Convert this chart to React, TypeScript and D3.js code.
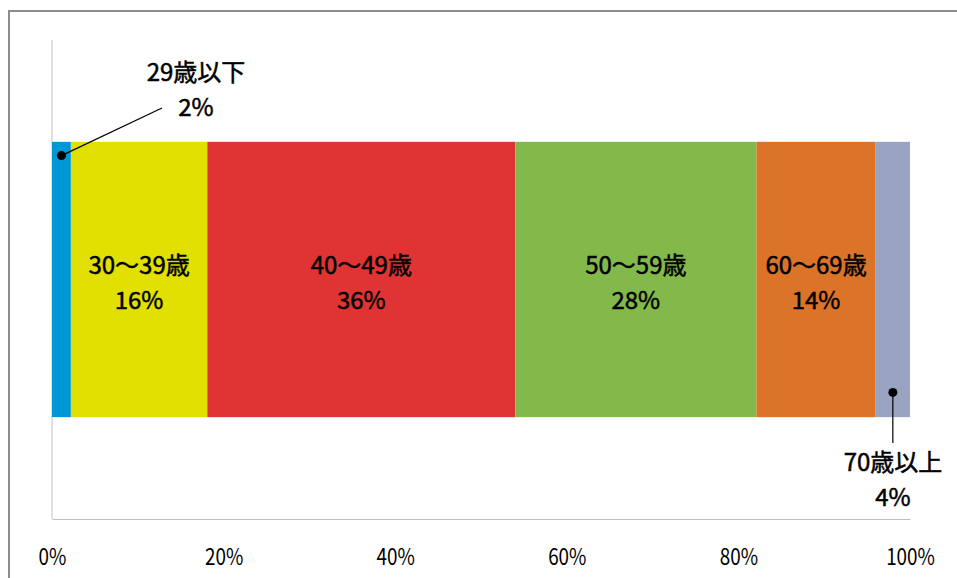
import { useEffect, useRef } from "react";
import * as d3 from "d3";

const categories = ["29歳以下", "30～39歳", "40～49歳", "50～59歳", "60～69歳", "70歳以上"];
const shares = [2.2, 15.9, 35.9, 28.1, 13.9, 4.0];
const colors = ["#0097d6", "#e2e000", "#e03434", "#83b94a", "#db7428", "#9aa4c2"];
const ticks = [0, 20, 40, 60, 80, 100];

const FONT = "'Noto Sans CJK JP', 'Noto Sans', sans-serif";

function App() {
  const svgRef = useRef<SVGSVGElement | null>(null);

  useEffect(() => {
    const svg: any = d3.select(svgRef.current);
    svg.selectAll("*").remove();

    const width = 957;
    const height = 578;
    const plotTop = 40;
    const plotBottom = 519;

    // chart frame (runs off the right/bottom edge)
    svg
      .append("rect")
      .attr("x", 9)
      .attr("y", 11)
      .attr("width", width + 20)
      .attr("height", height + 20)
      .attr("fill", "#fff")
      .attr("stroke", "#8c8c8c")
      .attr("stroke-width", 2);

    const x = d3.scaleLinear().domain([0, 100]).range([52, 910]);
    const y = d3
      .scaleBand()
      .domain(["all"])
      .range([plotTop, plotBottom])
      .padding(0.27);

    const stacked = shares.map((v, i) => {
      const start = d3.sum(shares.slice(0, i));
      return { name: categories[i], value: v, x0: start, x1: start + v, color: colors[i] };
    });

    const by = y("all") as number;
    const bh = y.bandwidth();

    // left axis line
    svg
      .append("line")
      .attr("x1", x(0))
      .attr("x2", x(0))
      .attr("y1", plotTop)
      .attr("y2", plotBottom)
      .attr("stroke", "#bfbfbf");

    // bottom axis
    const axis = svg
      .append("g")
      .attr("transform", `translate(0, ${plotBottom})`)
      .call(
        d3
          .axisBottom(x)
          .tickValues(ticks)
          .tickSize(0)
          .tickPadding(30)
          .tickFormat((d: any) => `${d}%`)
      );
    axis.select(".domain").attr("stroke", "#bfbfbf");
    axis
      .selectAll("text")
      .attr("font-family", FONT)
      .attr("font-size", 23)
      .attr("fill", "#000")
      .attr("transform", "scale(0.82,1)");

    // bars
    svg
      .append("g")
      .selectAll("rect")
      .data(stacked)
      .enter()
      .append("rect")
      .attr("x", (d: any) => x(d.x0))
      .attr("width", (d: any) => x(d.x1) - x(d.x0))
      .attr("y", by)
      .attr("height", bh)
      .attr("fill", (d: any) => d.color);

    // two-line label: name, then rounded share
    const addLabel = (cx: number, cy: number, d: any) => {
      const lines = [d.name, `${Math.round(d.value)}%`];
      lines.forEach((txt, i) => {
        svg
          .append("text")
          .attr("x", cx)
          .attr("y", cy + i * 35)
          .attr("dy", "0.36em")
          .attr("text-anchor", "middle")
          .attr("font-family", FONT)
          .attr("font-size", 24)
          .attr("fill", "#000")
          .attr("stroke", "#000")
          .attr("stroke-width", 0.5)
          .text(txt);
      });
    };

    // inside labels
    stacked.slice(1, 5).forEach((d) => {
      addLabel((x(d.x0) + x(d.x1)) / 2, by + bh * 0.45, d);
    });

    // first segment: callout above
    const first = stacked[0];
    const fx = (x(first.x0) + x(first.x1)) / 2;
    const fy = by + bh * 0.05;
    svg
      .append("line")
      .attr("x1", fx)
      .attr("y1", fy)
      .attr("x2", 162)
      .attr("y2", 108)
      .attr("stroke", "#000")
      .attr("stroke-width", 1.2);
    svg.append("circle").attr("cx", fx).attr("cy", fy).attr("r", 4.5).attr("fill", "#000");
    addLabel(196, 72, first);

    // last segment: callout below
    const last = stacked[5];
    const lx = (x(last.x0) + x(last.x1)) / 2;
    const ly = by + bh * 0.91;
    svg
      .append("line")
      .attr("x1", lx)
      .attr("y1", ly)
      .attr("x2", lx)
      .attr("y2", 443)
      .attr("stroke", "#000")
      .attr("stroke-width", 1.2);
    svg.append("circle").attr("cx", lx).attr("cy", ly).attr("r", 4.5).attr("fill", "#000");
    addLabel(893, 462, last);
  }, []);

  return (
    <svg
      ref={svgRef}
      width={957}
      height={578}
      style={{ position: "absolute", left: 0, top: 0, background: "#fff" }}
    ></svg>
  );
}

export default App;
